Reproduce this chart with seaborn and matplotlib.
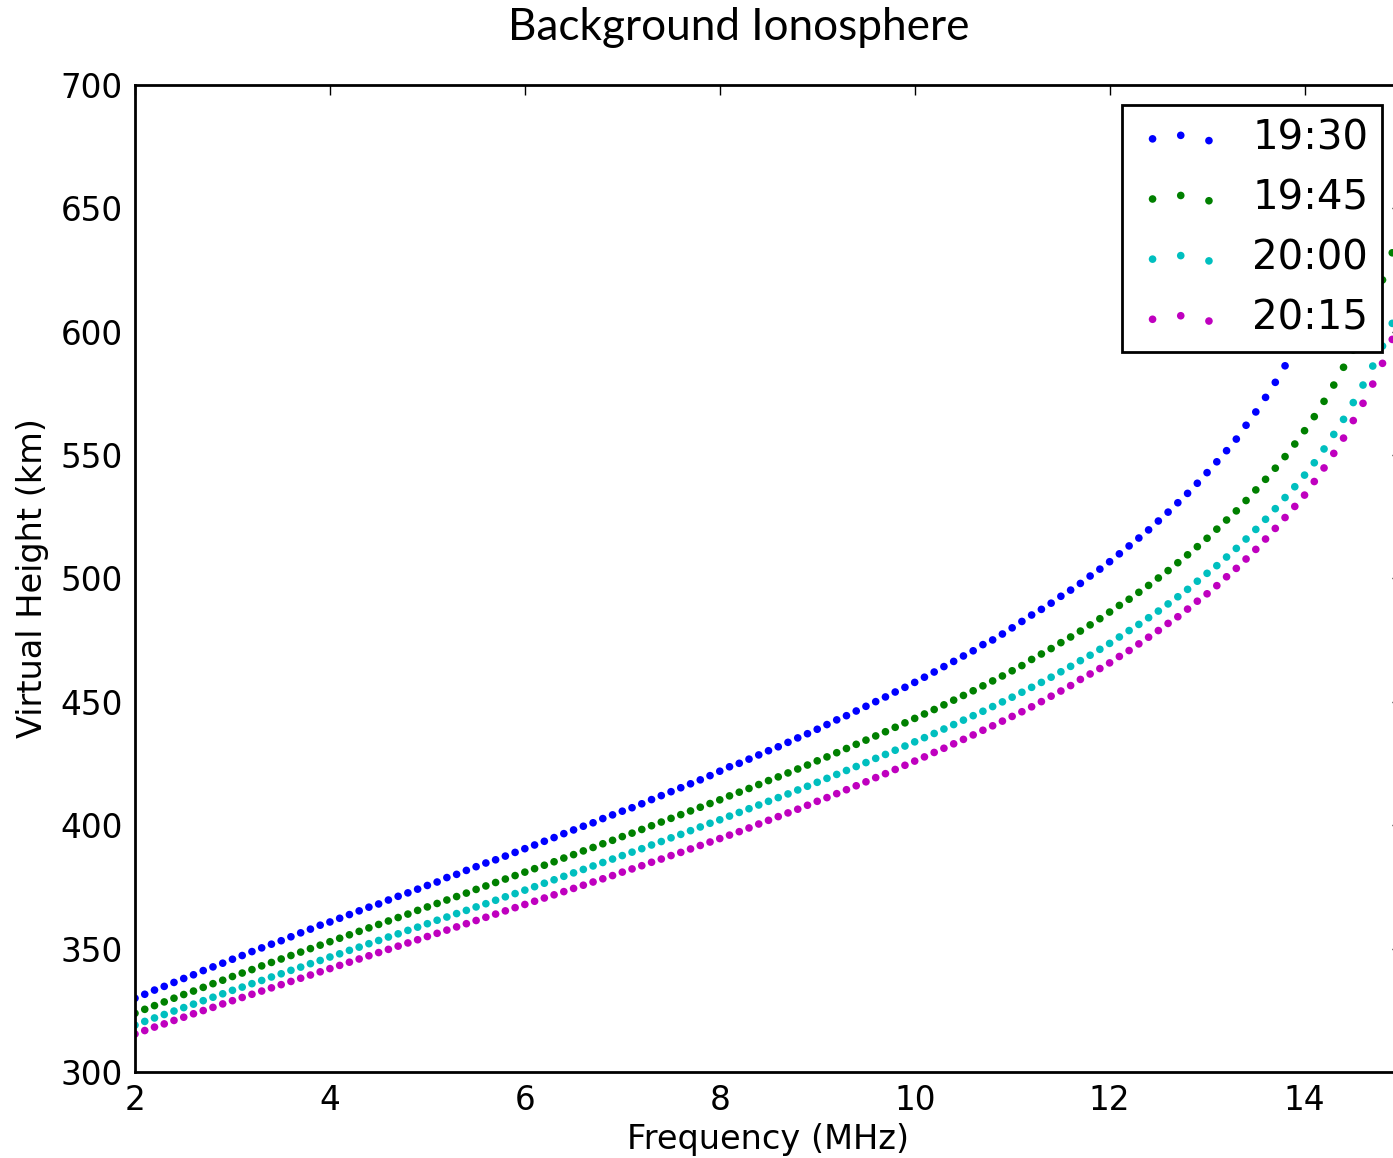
import matplotlib
matplotlib.use("Agg")
import matplotlib.pyplot as plt
from matplotlib.collections import PathCollection
from matplotlib.legend_handler import HandlerPathCollection
import seaborn as sns
import pandas as pd

freq = [
    2.0, 2.1, 2.2, 2.3, 2.4, 2.5, 2.6, 2.7, 2.8, 2.9,
    3.0, 3.1, 3.2, 3.3, 3.4, 3.5, 3.6, 3.7, 3.8, 3.9,
    4.0, 4.1, 4.2, 4.3, 4.4, 4.5, 4.6, 4.7, 4.8, 4.9,
    5.0, 5.1, 5.2, 5.3, 5.4, 5.5, 5.6, 5.7, 5.8, 5.9,
    6.0, 6.1, 6.2, 6.3, 6.4, 6.5, 6.6, 6.7, 6.8, 6.9,
    7.0, 7.1, 7.2, 7.3, 7.4, 7.5, 7.6, 7.7, 7.8, 7.9,
    8.0, 8.1, 8.2, 8.3, 8.4, 8.5, 8.6, 8.7, 8.8, 8.9,
    9.0, 9.1, 9.2, 9.3, 9.4, 9.5, 9.6, 9.7, 9.8, 9.9,
    10.0, 10.1, 10.2, 10.3, 10.4, 10.5, 10.6, 10.7, 10.8, 10.9,
    11.0, 11.1, 11.2, 11.3, 11.4, 11.5, 11.6, 11.7, 11.8, 11.9,
    12.0, 12.1, 12.2, 12.3, 12.4, 12.5, 12.6, 12.7, 12.8, 12.9,
    13.0, 13.1, 13.2, 13.3, 13.4, 13.5, 13.6, 13.7, 13.8, 13.9,
    14.0, 14.1, 14.2, 14.3, 14.4, 14.5, 14.6, 14.7, 14.8, 14.9,
]

h_1930 = [
    329.9, 331.5, 333.2, 334.7, 336.3, 337.9, 339.4, 341.1, 342.6, 344.1,
    345.7, 347.2, 348.8, 350.3, 351.8, 353.2, 354.8, 356.4, 357.9, 359.5,
    360.8, 362.3, 363.8, 365.3, 366.8, 368.1, 369.7, 371.2, 372.6, 374.1,
    375.6, 377.0, 378.8, 380.1, 381.7, 383.2, 384.7, 386.0, 387.5, 389.0,
    390.5, 392.0, 393.5, 395.0, 396.6, 398.1, 399.6, 401.0, 402.7, 404.2,
    405.7, 407.1, 408.7, 410.4, 412.0, 413.6, 415.2, 416.8, 418.4, 420.1,
    421.9, 423.7, 425.1, 426.8, 428.5, 430.2, 431.8, 433.6, 435.4, 437.1,
    438.9, 440.8, 442.7, 444.4, 446.3, 448.2, 450.1, 452.0, 454.0, 455.9,
    457.9, 460.0, 462.1, 464.3, 466.4, 468.6, 470.7, 473.2, 475.1, 477.5,
    480.0, 482.6, 485.2, 487.5, 490.0, 492.8, 495.3, 498.0, 501.0, 503.8,
    506.8, 510.0, 513.2, 516.4, 519.7, 523.3, 526.9, 530.7, 534.5, 538.6,
    542.9, 547.3, 551.8, 556.5, 562.1, 567.5, 573.4, 579.5, 586.2, 593.3,
]

h_1945 = [
    323.8, 325.4, 326.9, 328.4, 329.9, 331.4, 332.8, 334.3, 335.8, 337.2,
    338.7, 340.1, 341.5, 343.0, 344.4, 345.8, 347.2, 348.6, 350.0, 351.4,
    352.8, 354.2, 355.6, 357.0, 358.4, 359.8, 361.2, 362.6, 364.0, 365.5,
    366.9, 368.3, 369.7, 371.1, 372.5, 374.0, 375.4, 376.8, 378.2, 379.6,
    381.0, 382.4, 383.8, 385.2, 386.7, 388.1, 389.6, 391.0, 392.5, 393.9,
    395.4, 396.8, 398.3, 399.8, 401.3, 402.8, 404.3, 405.8, 407.3, 408.8,
    410.3, 411.9, 413.4, 414.9, 416.5, 418.1, 419.6, 421.2, 422.8, 424.4,
    426.1, 427.7, 429.4, 431.1, 432.8, 434.5, 436.2, 437.9, 439.7, 441.5,
    443.3, 445.1, 446.9, 448.8, 450.7, 452.6, 454.5, 456.5, 458.5, 460.5,
    462.6, 464.7, 467.2, 469.4, 471.6, 474.0, 476.3, 478.7, 481.2, 483.7,
    486.4, 489.1, 491.6, 494.4, 497.2, 500.2, 503.2, 506.4, 509.6, 512.9,
    516.3, 520.0, 523.7, 527.4, 531.6, 535.9, 540.2, 544.7, 549.4, 554.5,
    559.9, 565.6, 571.8, 578.4, 585.6, 592.6, 600.5, 610.0, 621.0, 632.0,
]

h_2000 = [
    319.0, 320.5, 321.9, 323.3, 324.7, 326.1, 327.5, 328.9, 330.3, 331.7,
    333.1, 334.4, 335.8, 337.1, 338.5, 339.8, 341.2, 342.5, 343.9, 345.2,
    346.6, 347.9, 349.3, 350.6, 352.0, 353.3, 354.7, 356.0, 357.4, 358.7,
    360.1, 361.5, 362.8, 364.2, 365.5, 366.9, 368.2, 369.6, 371.0, 372.3,
    373.7, 375.1, 376.5, 377.9, 379.3, 380.7, 382.1, 383.5, 384.9, 386.3,
    387.7, 389.1, 390.5, 392.0, 393.4, 394.9, 396.3, 397.8, 399.3, 400.8,
    402.2, 403.7, 405.2, 406.7, 408.2, 409.7, 411.2, 412.7, 414.3, 415.8,
    417.4, 419.0, 420.6, 422.2, 423.8, 425.4, 427.1, 428.7, 430.4, 432.1,
    433.8, 435.5, 437.2, 439.0, 440.8, 442.6, 444.4, 446.2, 448.1, 450.0,
    451.9, 453.9, 455.9, 457.9, 460.0, 462.2, 464.4, 466.7, 468.9, 471.3,
    473.7, 476.3, 478.9, 481.4, 484.1, 486.8, 489.7, 492.6, 495.6, 498.9,
    502.1, 505.2, 508.7, 512.2, 516.0, 519.9, 524.0, 528.3, 532.8, 537.2,
    541.9, 546.9, 552.5, 558.4, 564.5, 571.3, 578.4, 586.1, 594.2, 603.4,
]

h_2015 = [
    315.4, 316.8, 318.2, 319.5, 320.9, 322.2, 323.6, 324.9, 326.2, 327.6,
    328.9, 330.2, 331.5, 332.8, 334.1, 335.4, 336.7, 338.0, 339.3, 340.6,
    341.9, 343.2, 344.5, 345.8, 347.1, 348.4, 349.7, 351.0, 352.3, 353.6,
    354.9, 356.2, 357.5, 358.8, 360.1, 361.4, 362.7, 364.0, 365.3, 366.6,
    367.9, 369.2, 370.5, 371.8, 373.1, 374.4, 375.7, 377.0, 378.3, 379.6,
    381.0, 382.3, 383.6, 385.0, 386.3, 387.7, 389.0, 390.4, 391.8, 393.2,
    394.6, 396.0, 397.4, 398.9, 400.5, 402.0, 403.5, 405.0, 406.5, 408.1,
    409.7, 411.2, 412.8, 414.4, 416.0, 417.6, 419.3, 420.9, 422.6, 424.3,
    426.0, 427.7, 429.5, 431.2, 433.0, 434.8, 436.6, 438.5, 440.3, 442.2,
    444.1, 446.0, 448.0, 450.1, 452.3, 454.4, 456.6, 459.1, 461.3, 463.5,
    465.8, 468.4, 470.8, 473.5, 476.2, 478.9, 481.8, 484.5, 487.6, 490.8,
    493.8, 497.1, 500.7, 504.1, 507.9, 511.8, 516.0, 520.3, 524.7, 529.2,
    533.8, 539.3, 544.8, 550.7, 556.9, 564.0, 571.0, 578.8, 587.2, 596.9,
]

series_labels = ["19:30", "19:45", "20:00", "20:15"]
series_values = [h_1930, h_1945, h_2000, h_2015]
series_colors = ["#0000ff", "#008000", "#00bfbf", "#bf00bf"]

x_ticks = [2, 4, 6, 8, 10, 12, 14]
y_ticks = [300, 350, 400, 450, 500, 550, 600, 650, 700]

frames = []
for lab, vals in zip(series_labels, series_values):
    frames.append(pd.DataFrame({"freq": freq[:len(vals)], "height": vals, "time": lab}))
df = pd.concat(frames, ignore_index=True)

sns.set_style("white")
plt.rcParams.update({
    "font.family": ["DejaVu Sans"],
    "text.color": "black",
    "axes.labelcolor": "black",
    "xtick.color": "black",
    "ytick.color": "black",
})

W, H = 1393, 1158
DOT = 30
fig = plt.figure(figsize=(W / 100, H / 100), dpi=100)
ax = fig.add_axes([135 / W, (H - 1072) / H, (1402 - 135) / W, (1072 - 85) / H])

palette = dict(zip(series_labels, series_colors))
sns.scatterplot(data=df, x="freq", y="height", hue="time", palette=palette,
                s=DOT, linewidth=0, marker="o", ax=ax, legend=False)

ax.set_xlim(2, 15)
ax.set_ylim(300, 700)
ax.set_xticks(x_ticks)
ax.set_yticks(y_ticks)
ax.tick_params(direction="in", length=7, width=1, pad=9, labelsize=23.5,
               top=True, right=True, colors="black")
for sp in ax.spines.values():
    sp.set_visible(True)
    sp.set_color("black")
    sp.set_linewidth(2)

ax.set_xlabel("Frequency (MHz)", fontsize=24.2, labelpad=4)
ax.set_ylabel("Virtual Height (km)", fontsize=24.2, labelpad=8)

# legend proxies (empty scatter collections so the legend shows 3 offset dots)
handles = [ax.scatter([], [], s=DOT, color=c, linewidths=0) for c in series_colors]
leg = ax.legend(handles, series_labels, loc="upper right", scatterpoints=3,
                scatteryoffsets=[0.375, 0.5, 0.3125], fontsize=29,
                frameon=True, fancybox=False, framealpha=1,
                edgecolor="black", borderaxespad=0.5, handlelength=2.24,
                labelspacing=0.5, handletextpad=0.66, borderpad=0.33,
                handler_map={PathCollection: HandlerPathCollection(marker_pad=0.42)})
leg.get_frame().set_linewidth(2)

fig.text(739 / W, 1 - 28 / H, "Background Ionosphere", ha="center", va="center",
         fontsize=31.8, family=["Lato", "DejaVu Sans"], color="black")

fig.savefig("out.png", dpi=100)
